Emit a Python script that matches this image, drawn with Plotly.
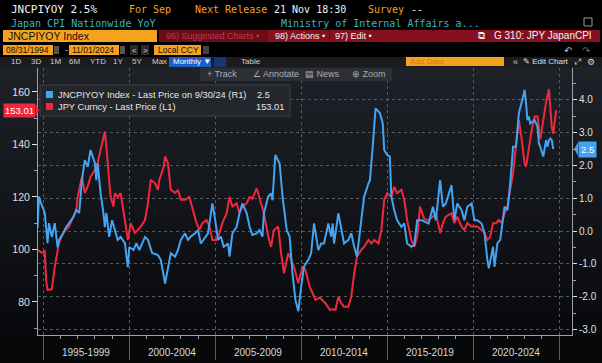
import plotly.graph_objects as go

# ---------------- data ----------------
cpi_dates = ["1994-09","1994-10","1994-11","1995-02","1995-04","1995-05","1995-07","1995-09","1995-11","1995-12",
 "1996-03","1996-05","1996-07","1996-10","1996-12","1997-02","1997-04","1997-06","1997-08","1997-10",
 "1998-01","1998-02","1998-03","1998-05","1998-07","1998-08","1998-09","1998-11","1999-01","1999-03",
 "1999-05","1999-07","1999-10","1999-12","2000-01","2000-04","2000-06","2000-08","2000-12","2001-02",
 "2001-05","2001-09","2001-11","2002-02","2002-04","2002-06","2002-09","2002-11","2003-01","2003-04",
 "2003-06","2003-08","2003-11","2004-01","2004-03","2004-06","2004-08","2004-10","2004-11","2005-01",
 "2005-03","2005-05","2005-07","2005-10","2005-11","2006-01","2006-04","2006-06","2006-08","2006-11",
 "2007-01","2007-03","2007-06","2007-08","2007-10","2007-11","2008-02","2008-04","2008-05","2008-07",
 "2008-10","2008-12","2009-03","2009-05","2009-07","2009-09","2009-11","2010-01","2010-03","2010-06",
 "2010-08","2010-10","2011-01","2011-03","2011-05","2011-08","2011-10","2011-11","2011-12","2012-03",
 "2012-05","2012-07","2012-10","2012-12","2013-02","2013-04","2013-07","2013-09","2013-12","2014-01",
 "2014-03","2014-05","2014-08","2014-10","2014-11","2015-01","2015-03","2015-04","2015-06","2015-08",
 "2015-11","2016-01","2016-03","2016-06","2016-08","2016-10","2017-01","2017-03","2017-06","2017-09",
 "2017-11","2018-02","2018-04","2018-06","2018-10","2018-12","2019-02","2019-05","2019-07","2019-09",
 "2019-12","2020-02","2020-04","2020-07","2020-09","2020-11","2020-12","2021-03","2021-04","2021-06",
 "2021-08","2021-11","2022-01","2022-03","2022-05","2022-07","2022-09","2022-12","2023-01","2023-02",
 "2023-03","2023-04","2023-05","2023-08","2023-10","2023-11","2023-12","2024-02","2024-03","2024-04",
 "2024-05","2024-06","2024-07","2024-08","2024-09"]
cpi_values = [0.1,1.05,0.9,0.55,-0.37,0.24,-0.18,0.24,-0.5,-0.27,
 -0.06,0.12,0.24,0.43,0.64,0.55,1.55,2.16,1.96,2.47,
 2.07,1.55,2.07,1.16,0.55,0.12,0.55,-0.18,0.33,0.03,
 -0.27,-0.18,-0.37,-1.1,-0.49,-0.58,-0.37,-0.58,-0.18,-0.27,
 -0.67,-0.73,-0.88,-1.6,-1.1,-0.68,-0.78,-0.58,-0.27,-0.07,
 -0.27,-0.17,-0.07,0.03,-0.38,-0.17,-0.07,0.54,0.84,0.33,
 -0.27,-0.17,-0.48,-0.38,-0.78,-0.07,0.13,0.54,0.84,0.54,
 0.13,-0.12,-0.07,0.03,-0.17,0.54,1.05,1.15,0.94,2.32,
 2.06,1.05,0.03,-0.17,-1.29,-2.1,-2.45,-1.7,-1.09,-0.88,
 -0.68,0.23,-0.58,-0.38,-0.38,0.23,-0.17,0.23,-0.38,0.54,
 0.13,-0.38,-0.27,-0.07,-0.48,-0.78,0.33,1.05,1.45,1.55,
 2.57,3.74,3.6,3.28,2.47,2.32,2.27,1.05,0.64,0.33,
 0.13,0.23,-0.38,-0.48,-0.43,0.33,0.33,0.3,0.23,0.74,
 0.33,1.55,0.74,0.84,1.4,0.33,0.84,0.64,0.33,0.74,
 0.84,0.33,0.33,0.23,-0.07,-0.88,-1.14,-0.48,-1.09,-0.38,
 -0.27,0.74,0.64,1.45,2.57,2.57,3.59,4.1,4.3,3.9,
 3.38,3.49,3.28,3.38,3.18,2.67,2.57,2.27,2.57,2.77,
 2.57,2.77,2.82,2.77,2.5]

jpy_dates = ["1994-09","1994-12","1995-02","1995-03","1995-04","1995-07","1995-09","1995-11","1995-12","1996-03",
 "1996-05","1996-07","1996-10","1996-12","1997-01","1997-04","1997-06","1997-08","1997-10","1998-01",
 "1998-03","1998-05","1998-08","1998-09","1998-11","1998-12","1999-02","1999-03","1999-05","1999-07",
 "1999-10","1999-12","2000-02","2000-05","2000-07","2000-09","2000-12","2001-02","2001-04","2001-07",
 "2001-09","2001-10","2002-01","2002-02","2002-04","2002-06","2002-09","2002-11","2003-01","2003-04",
 "2003-07","2003-09","2003-12","2004-02","2004-04","2004-07","2004-09","2004-11","2005-02","2005-04",
 "2005-06","2005-09","2005-11","2006-01","2006-04","2006-06","2006-08","2006-11","2007-01","2007-03",
 "2007-06","2007-09","2007-11","2008-02","2008-04","2008-06","2008-09","2008-11","2009-01","2009-04",
 "2009-06","2009-08","2009-11","2010-02","2010-04","2010-07","2010-09","2010-11","2011-02","2011-04",
 "2011-06","2011-09","2011-11","2012-01","2012-03","2012-05","2012-07","2012-10","2012-12","2013-02",
 "2013-04","2013-07","2013-09","2013-12","2014-02","2014-04","2014-07","2014-09","2014-11","2015-01",
 "2015-04","2015-06","2015-08","2015-11","2016-01","2016-03","2016-06","2016-08","2016-10","2016-12",
 "2017-03","2017-06","2017-09","2017-11","2018-02","2018-04","2018-06","2018-10","2018-12","2019-02",
 "2019-05","2019-07","2019-09","2019-12","2020-02","2020-04","2020-07","2020-09","2020-11","2021-01",
 "2021-03","2021-05","2021-07","2021-09","2021-11","2022-01","2022-03","2022-05","2022-07","2022-09",
 "2022-11","2023-01","2023-02","2023-04","2023-06","2023-08","2023-10","2023-12","2024-02","2024-04",
 "2024-06","2024-08","2024-09","2024-11"]
jpy_values = [99.8,98.7,99.3,88.4,84.6,84.8,93.4,99.8,102.5,106.3,
 107.4,108.7,112.5,115.0,120.0,127.7,121.5,124.0,127.7,130.3,
 133.0,137.9,144.9,139.2,126.5,120.0,116.3,121.4,120.0,121.4,
 111.2,103.6,110.0,106.3,107.4,108.7,111.2,117.6,126.5,125.2,
 122.7,126.5,131.5,135.4,133.0,122.7,121.5,122.7,118.9,118.9,
 120.0,116.3,110.0,107.4,110.0,111.2,108.7,103.6,103.6,106.2,
 110.0,113.8,120.0,116.3,117.6,113.8,116.3,117.6,120.0,119.3,
 123.3,117.6,113.8,104.9,101.0,107.4,108.7,98.6,90.9,98.6,
 96.0,93.5,87.1,93.5,92.2,85.8,83.3,80.8,81.7,80.8,
 79.5,77.0,77.2,77.0,82.0,79.5,78.2,78.2,82.0,90.9,
 97.3,99.8,101.0,103.6,102.3,103.6,102.3,107.4,118.9,121.4,
 120.0,123.9,121.4,122.7,118.9,111.2,103.6,101.0,104.9,116.3,
 111.5,111.2,112.5,113.8,106.2,110.0,112.5,113.8,110.0,112.5,
 108.7,107.4,110.0,108.7,108.7,108.7,107.4,106.2,103.6,104.9,
 110.0,110.0,111.2,110.0,113.8,116.3,122.7,129.0,139.2,149.3,
 141.7,132.8,131.5,139.2,145.5,150.6,150.6,142.0,150.0,156.0,
 161.0,146.5,144.0,153.01]

left_ticks = [80, 100, 120, 140, 160]
right_ticks = [-3.0, -2.0, -1.0, 0.0, 1.0, 2.0, 3.0, 4.0]
period_labels = ["1995-1999", "2000-2004", "2005-2009", "2010-2014", "2015-2019", "2020-2024"]
period_mid = ["1997-07-01", "2002-07-01", "2007-07-01", "2012-07-01", "2017-07-01", "2022-07-01"]

BLUE = "#42a4f2"
RED = "#f0283f"
ORANGE = "#f5a21f"
W, H = 602, 363
L, R, T, B = 38, 572, 68, 335

def px(x):
    return (x - L) / (R - L)

def py(y):
    return (B - y) / (B - T)

shapes = []
ann = []

def rect(x0, y0, x1, y1, fill, line=None, layer="above"):
    shapes.append(dict(type="rect", xref="paper", yref="paper", x0=px(x0), x1=px(x1),
                       y0=py(y0), y1=py(y1), fillcolor=fill, layer=layer,
                       line=dict(width=1 if line else 0, color=line or fill)))

def txt(x, y, s, color="#e0e0e0", size=10, fam="Liberation Sans", anchor="left", bg=None):
    a = dict(xref="paper", yref="paper", x=px(x), y=py(y), text=s, showarrow=False,
             xanchor=anchor, yanchor="middle", font=dict(color=color, size=size, family=fam))
    if bg:
        a.update(bgcolor=bg)
    ann.append(a)

# panel gradient background
n = 30
top_c = (30, 34, 40)
bot_c = (9, 10, 13)
for i in range(n):
    f = i / (n - 1)
    c = tuple(int(top_c[k] + (bot_c[k] - top_c[k]) * f) for k in range(3))
    y0 = 67 + (B - 67) * i / n
    y1 = 67 + (B - 67) * (i + 1) / n
    rect(0, y0, W, y1 + 0.5, "rgb(%d,%d,%d)" % c, layer="below")
rect(0, B, W, H, "#07080a", layer="below")

fig = go.Figure()
fig.add_trace(go.Scatter(x=cpi_dates, y=cpi_values, yaxis="y2", mode="lines",
                         line=dict(color=BLUE, width=2), showlegend=False))
fig.add_trace(go.Scatter(x=jpy_dates, y=jpy_values, yaxis="y", mode="lines",
                         line=dict(color=RED, width=2), showlegend=False))

# ---------------- header ----------------
MONO = "DejaVu Sans Mono"
rect(0, 0, W, 67, "#000000")
txt(9, 10, "JNCPIYOY 2.5%", "#f2f2f2", 11, MONO)
txt(127, 10, "For Sep", ORANGE, 10, MONO)
txt(193, 10, "Next Release", ORANGE, 10, MONO)
txt(272, 10, "21 Nov 18:30", "#f2f2f2", 10, MONO)
txt(366, 10, "Survey", ORANGE, 10, MONO)
txt(409, 10, "--", "#f2f2f2", 10, MONO)
txt(9, 23, "Japan CPI Nationwide YoY", "#38b6c4", 10, MONO)
txt(279, 23, "Ministry of Internal Affairs a...", "#38b6c4", 10, MONO)
rect(584, 18, 592, 26, "#000000", "#9a9a9a")

rect(3, 30, 157, 42, ORANGE)
txt(6, 36, "JNCPIYOY Index", "#111111", 10.5)
rect(159, 30, 600, 42, "#86101f")
rect(159, 30, 268, 42, "#6d0c19")
txt(164, 36, "96) Suggested Charts •", "#b83a4e", 9)
txt(273, 36, "98) Actions •", "#f2f2f2", 9)
rect(329, 31, 330, 41, "#5a0810")
txt(333, 36, "97) Edit •", "#f2f2f2", 9)
txt(476, 36, "⧉", "#f2f2f2", 10)
txt(492, 36, "G 310: JPY JapanCPI", "#f2f2f2", 10)

rect(3, 45, 53, 55, ORANGE)
txt(4, 50, "08/31/1994", "#111111", 8.5)
rect(54, 46, 59, 54, "#555555")
txt(63, 50, "-", "#dddddd", 9)
rect(69, 45, 119, 55, ORANGE)
txt(70, 50, "11/01/2024", "#111111", 8.5)
rect(120, 46, 125, 54, "#555555")
rect(130, 45, 138, 55, "#2b2b2b")
txt(134, 50, "<", "#dddddd", 8, anchor="center")
rect(141, 45, 149, 55, "#2b2b2b")
txt(145, 50, ">", "#dddddd", 8, anchor="center")
rect(154, 45, 201, 55, ORANGE)
txt(156, 50, "Local CCY", "#111111", 8.5)
rect(203, 46, 209, 54, "#444444")
txt(568, 50, "↶", "#bbbbbb", 10, anchor="center")
txt(586, 50, "↷", "#666666", 10, anchor="center")

rect(0, 57, W, 67, "#1c1c1e")
for xx, s in [(9, "1D"), (29, "3D"), (48, "1M"), (67, "6M"), (88, "YTD"), (111, "1Y"), (130, "5Y"), (150, "Max")]:
    txt(xx, 62, s, "#cfcfcf", 8)
rect(169, 57, 211, 67, "#1d5fc4")
txt(171, 62, "Monthly ▼", "#ffffff", 8)
rect(214, 57, 226, 67, "#17386e")
txt(239, 62, "Table", "#cfcfcf", 8)
rect(406, 57, 504, 66, ORANGE)
txt(408, 62, "Add Data", "#d97b10", 8)
txt(511, 62, "«", "#cfcfcf", 9)
txt(521, 62, "✎ Edit Chart", "#e0e0e0", 8)
txt(577, 62, "⤢", "#cfcfcf", 8, anchor="center")
txt(591, 62, "⚙", "#cfcfcf", 9, anchor="center")

# toolbar
rect(200, 68, 392, 81, "#2c3036")
txt(205, 74.5, "+ Track", "#a9adb2", 9)
txt(251, 74.5, "∠ Annotate", "#a9adb2", 9)
txt(303, 74.5, "▤ News", "#a9adb2", 9)
txt(350, 74.5, "⊕ Zoom", "#a9adb2", 9)

# legend box
rect(40, 85, 290, 116, "#23272c", "#3c4147")
rect(46, 91, 53, 98, BLUE)
txt(56, 95, "JNCPIYOY Index - Last Price on 9/30/24 (R1)", "#e6e6e6", 9.3)
txt(272, 95, "%.1f" % cpi_values[-1], "#e6e6e6", 9.3, anchor="right")
rect(46, 103, 53, 110, RED)
txt(56, 107, "JPY Curncy - Last Price (L1)", "#e6e6e6", 9.3)
txt(286, 107, "%.2f" % jpy_values[-1], "#e6e6e6", 9.3, anchor="right")

# period labels on the x axis
for lab, mid in zip(period_labels, period_mid):
    ann.append(dict(xref="x", yref="paper", x=mid, y=py(352), text=lab, showarrow=False,
                    xanchor="center", yanchor="middle",
                    font=dict(color="#d8d8d8", size=10, family="Liberation Sans")))

# last value tags
ann.append(dict(xref="paper", yref="y", x=px(36), y=jpy_values[-1], text="%.2f" % jpy_values[-1],
                showarrow=False, xanchor="right", yanchor="middle", bgcolor=RED, borderpad=1,
                font=dict(color="#ffffff", size=9.5, family="Liberation Sans")))
shapes.append(dict(type="path", xref="paper", yref="y", xsizemode="pixel", ysizemode="pixel",
                   xanchor=px(36), yanchor=jpy_values[-1], path="M 0,-6 L 3,0 L 0,6 Z",
                   fillcolor=RED, line=dict(width=0)))
ann.append(dict(xref="paper", yref="y2", x=px(578), y=cpi_values[-1], text="%.1f" % cpi_values[-1],
                showarrow=False, xanchor="left", yanchor="middle", bgcolor=BLUE, borderpad=2,
                font=dict(color="#ffffff", size=9.5, family="Liberation Sans")))
shapes.append(dict(type="path", xref="paper", yref="y2", xsizemode="pixel", ysizemode="pixel",
                   xanchor=px(578), yanchor=cpi_values[-1], path="M 0,-6.5 L -4,0 L 0,6.5 Z",
                   fillcolor=BLUE, line=dict(width=0)))

GRID = "#565b62"
AX = "#9da2a8"
fig.update_layout(
    template="none",
    width=W, height=H, margin=dict(l=L, r=W - R, t=T, b=H - B, pad=0, autoexpand=False),
    paper_bgcolor="#000000", plot_bgcolor="rgba(0,0,0,0)",
    shapes=shapes, annotations=ann, showlegend=False,
    xaxis=dict(type="date", range=["1994-09-10", "2025-10-04"], showgrid=True, gridcolor=GRID,
               griddash="dot", gridwidth=1, tick0="1995-01-01", dtick="M60", ticks="outside",
               ticklen=24, tickcolor="#5c6066", showticklabels=False, showline=True, linecolor=AX,
               zeroline=False, automargin=False,
               minor=dict(dtick="M12", tick0="1995-01-01", ticks="outside", ticklen=3,
                          tickcolor=AX, showgrid=False)),
    yaxis=dict(range=[67.4, 169.1], tickvals=left_ticks, ticktext=[str(v) for v in left_ticks],
               ticks="outside", ticklen=5, tickcolor="#e0e0e0", showgrid=False, showline=True,
               linecolor=AX, zeroline=False, automargin=False,
               tickfont=dict(color="#e0e0e0", size=10.5, family="Liberation Sans"),
               minor=dict(dtick=10, tick0=0, ticks="outside", ticklen=3, tickcolor=AX, showgrid=False)),
    yaxis2=dict(range=[-3.17, 4.97], overlaying="y", side="right", tickvals=right_ticks,
                ticktext=["%.1f" % v for v in right_ticks], ticks="outside", ticklen=4,
                tickcolor="#e0e0e0", showgrid=True, gridcolor=GRID, griddash="dot",
                showline=True, linecolor=AX, zeroline=False, automargin=False,
                tickfont=dict(color="#e0e0e0", size=10, family="Liberation Sans"),
                minor=dict(dtick=0.5, tick0=0, ticks="outside", ticklen=3, tickcolor=AX, showgrid=False)),
)
fig.write_html("out.html", config={"displayModeBar": False},
               post_script="document.body.style.margin='0px';document.body.style.overflow='hidden';")
